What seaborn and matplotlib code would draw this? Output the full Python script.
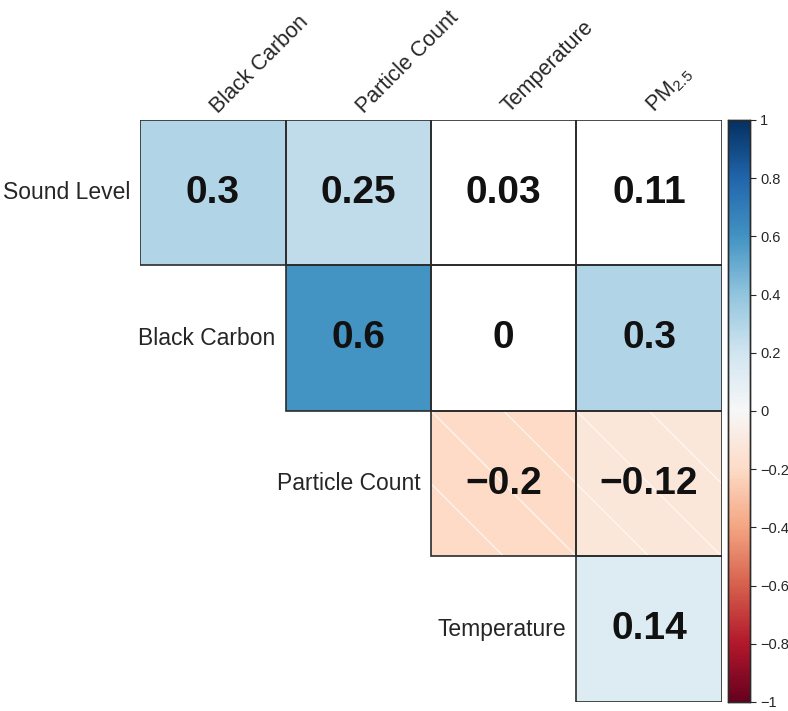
import numpy as np
import pandas as pd
import matplotlib.pyplot as plt
from matplotlib.colors import ListedColormap
import seaborn as sns

sns.set_style("white")
plt.rcParams['font.family'] = ['Liberation Sans', 'DejaVu Sans']
plt.rcParams['mathtext.default'] = 'regular'

# Correlation values (upper triangle)
row_labels = ['Sound Level', 'Black Carbon', 'Particle Count', 'Temperature']
col_labels = ['Black Carbon', 'Particle Count', 'Temperature', 'PM$_{2.5}$']
row0 = [0.3, 0.25, 0.03, 0.11]
row1 = [np.nan, 0.6, 0.0, 0.3]
row2 = [np.nan, np.nan, -0.2, -0.12]
row3 = [np.nan, np.nan, np.nan, 0.14]
# cells drawn without colour (not significant)
sig0 = [True, True, False, False]
sig1 = [False, True, False, True]
sig2 = [False, False, True, True]
sig3 = [False, False, False, True]

df = pd.DataFrame([row0, row1, row2, row3], index=row_labels, columns=col_labels)
sig = pd.DataFrame([sig0, sig1, sig2, sig3], index=row_labels, columns=col_labels)
empty = df.isna()
labels = df.apply(lambda c: c.map(lambda v: '' if pd.isna(v) else f'{v:g}'.replace('-', '\u2212')))

fig = plt.figure(figsize=(7.88, 7.11), dpi=100)
ax = fig.add_axes([0.178, 0.0127, 0.738, 0.8186])
cax = fig.add_axes([0.924, 0.0127, 0.028, 0.8186])

# white base layer with all the numbers
sns.heatmap(df, mask=empty, cmap=ListedColormap(['white']), annot=labels, fmt='',
            annot_kws={'fontsize': 28, 'fontweight': 'bold', 'color': '#111111'},
            linewidths=0, cbar=False, ax=ax)
# coloured layer for significant cells
sns.heatmap(df, mask=empty | ~sig, cmap='RdBu', vmin=-1, vmax=1,
            linewidths=0, ax=ax, cbar_ax=cax)

for i in range(df.shape[0]):
    for j in range(df.shape[1]):
        v = df.iloc[i, j]
        if pd.isna(v):
            continue
        # white diagonal hatch on negative cells
        if v < 0:
            clip = plt.Rectangle((j, i), 1, 1, fill=False, lw=0)
            ax.add_patch(clip)
            for c in np.arange(-1, 1.01, 0.5):
                ln, = ax.plot([j + c - 0.5, j + c + 1.5], [i - 0.5, i + 1.5],
                              color='white', lw=0.8, alpha=0.8)
                ln.set_clip_path(clip)
        ax.add_patch(plt.Rectangle((j, i), 1, 1, fill=False, lw=1.2,
                                   edgecolor='#2b2b2b', zorder=4))

# column labels on top
ax.xaxis.tick_top()
ax.set_xticks(np.arange(len(col_labels)) + 0.56)
ax.set_xticklabels(col_labels, rotation=45, ha='left', rotation_mode='anchor', fontsize=15.5)
ax.tick_params(axis='x', length=0, pad=2)

# row labels next to the diagonal
ax.set_yticks([])
ax.set_ylabel('')
for i, name in enumerate(row_labels):
    ax.text(i - 0.07, i + 0.5, name, ha='right', va='center', fontsize=16.5)

ticks = np.round(np.arange(-1, 1.01, 0.2), 1)
cax.set_yticks(ticks)
cax.set_yticklabels(['0' if t == 0 else f'{t:g}'.replace('-', '\u2212') for t in ticks])
cax.tick_params(labelsize=10.5, length=4, width=0.8, right=True, pad=3)
for s in cax.spines.values():
    s.set_visible(True)
    s.set_color('#2b2b2b')
    s.set_linewidth(1)

fig.savefig('out.png', dpi=100)
